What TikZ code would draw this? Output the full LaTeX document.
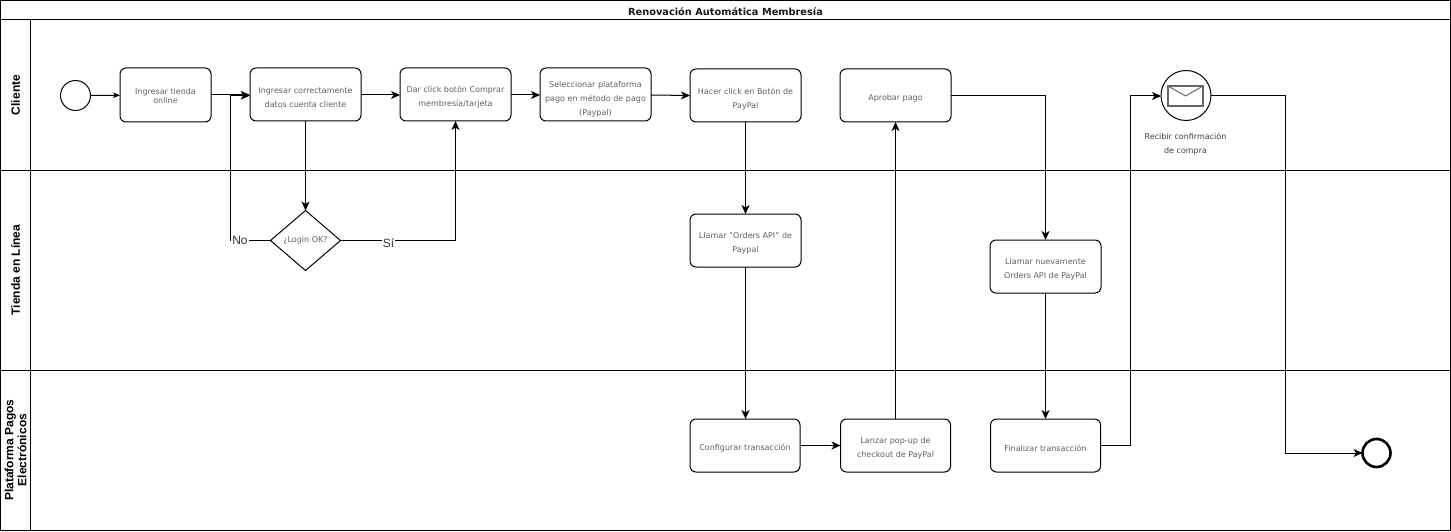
\documentclass[tikz,border=0pt]{standalone}
\usepackage{fontspec}
\setmainfont{DejaVu Sans}
\newfontfamily\lanefont{Liberation Sans}
\usetikzlibrary{arrows.meta,shapes.geometric}
\newcommand{\pushdown}[1]{\mbox{}\\[#1]}
\tikzset{
  task/.style={draw=black,line width=1pt,rounded corners=6pt,fill=white,inner sep=1pt,outer sep=0pt,align=center,text=black!62,font=\fontsize{8}{14}\selectfont},
  flow/.style={draw=black,line width=1pt,-{Stealth[length=9pt,width=8pt,inset=2.5pt]}},
  smallflow/.style={draw=black,line width=1pt,-{Stealth[length=7pt,width=5.5pt,inset=2pt]}},
  lane/.style={draw=black,line width=1pt},
  lanetitle/.style={rotate=90,align=center,font=\lanefont\bfseries\fontsize{12}{13}\selectfont},
  flowlabel/.style={fill=white,inner sep=1pt,font=\lanefont\fontsize{12}{13}\selectfont,text=black!80},
}
\begin{document}
\begin{tikzpicture}[x=1pt,y=-1pt]
\useasboundingbox (0,0) rectangle (1451,532);
% pool
\draw[lane] (0.5,0.5) rectangle (1450,530);
\draw[lane] (0.5,20) -- (1450,20);
\draw[lane] (0.5,170) -- (1450,170);
\draw[lane] (0.5,370) -- (1450,370);
\draw[lane] (30.5,20) -- (30.5,530);
\node[font=\bfseries\fontsize{9.8}{11}\selectfont,text=black!90] (title) at (725.5,11.5) {Renovación Automática Membresía};
\node[lanetitle] (l1) at (15.5,95) {Cliente};
\node[lanetitle] (l2) at (15.5,270) {Tienda en Línea};
\node[lanetitle] (l3) at (15.5,450) {Plataforma Pagos\\Electrónicos};
% events
\node[circle,draw=black,line width=1pt,minimum size=30pt,inner sep=0pt,outer sep=0pt] (start) at (75.5,95.5) {};
\node[circle,draw=black,line width=1pt,minimum size=50pt,inner sep=0pt,outer sep=0pt] (msg) at (1186,95.5) {};
\node[circle,draw=black,line width=2.6pt,minimum size=28pt,inner sep=0pt,outer sep=0pt] (fin) at (1376.5,453) {};
\draw[draw=black!60,line width=1.5pt] (1168,86) rectangle (1203,106);
\draw[draw=black!60,line width=1pt] (1168,86) -- (1185.5,96) -- (1203,86);
\node[align=center,text=black!75,font=\fontsize{8}{14}\selectfont] (msglabel) at (1185.5,144) {Recibir confirmación\\de compra};
% tasks
\node[task,minimum width=91pt,minimum height=54pt,font=\fontsize{8}{9}\selectfont] (t1) at (165.5,95) {\pushdown{-1pt}Ingresar tienda\\online};
\node[task,minimum width=111pt,minimum height=53pt] (t2) at (305.5,94.5) {\pushdown{-2pt}Ingresar correctamente\\datos cuenta cliente};
\node[task,minimum width=111pt,minimum height=53pt] (t3) at (455.5,94.5) {\pushdown{-2pt}Dar click botón Comprar\\membresía/tarjeta};
\node[task,minimum width=111pt,minimum height=53pt] (t4) at (595.5,94.5) {\pushdown{2pt}Seleccionar plataforma\\pago en método de pago\\(Paypal)};
\node[task,minimum width=111pt,minimum height=53pt] (t5) at (745.5,95.5) {\pushdown{-1pt}Hacer click en Botón de\\PayPal};
\node[task,minimum width=111pt,minimum height=53pt] (t6) at (895.5,95.5) {\pushdown{-2pt}Aprobar pago};
\node[diamond,draw=black,line width=1pt,minimum width=70pt,minimum height=60pt,inner sep=0pt,outer sep=0pt,text=black!62,font=\fontsize{8}{9}\selectfont] (d1) at (305.5,240.5) {¿Login OK?};
\node[task,minimum width=111pt,minimum height=53pt] (t7) at (745.5,240.5) {\pushdown{-2pt}Llamar "Orders API" de\\Paypal};
\node[task,minimum width=111pt,minimum height=53pt] (t8) at (1045.5,266.5) {\pushdown{-2pt}Llamar nuevamente\\Orders API de PayPal};
\node[task,minimum width=110pt,minimum height=53pt] (t9) at (745,445.5) {\pushdown{-2pt}Configurar transacción};
\node[task,minimum width=110pt,minimum height=53pt] (t10) at (895.5,445.5) {\pushdown{-2pt}Lanzar pop-up de\\checkout de PayPal};
\node[task,minimum width=110pt,minimum height=53pt] (t11) at (1045.5,445.5) {\pushdown{-2pt}Finalizar transacción};
% free corners
\coordinate (noup) at (230.5,240.5);
\coordinate (noin) at (230.5,95.5);
\coordinate (finup) at (1130.5,445.5);
\coordinate (fintop) at (1130.5,96);
\coordinate (msgr) at (1285.5,96);
\coordinate (msgd) at (1285.5,453);
% connectors
\draw[smallflow] (start) -- (t1);
\draw[flow] (t1.east) -- (t2.west |- t1.east);
\draw[flow] ([yshift=-0.5pt]t2.east) -- ([yshift=-0.5pt]t3.west);
\draw[flow] ([yshift=-0.5pt]t3.east) -- ([yshift=-0.5pt]t4.west);
\draw[flow] ([yshift=-0.5pt]t4.east) -- (t5.west);
\draw[flow] (t2.south) -- (d1.north);
\draw[flow] (d1.west) -- (noup) -- (noin) -- (t2.west |- noin);
\draw[flow] (d1.east) -| (t3.south);
\draw[flow] (t5.south) -- (t7.north);
\draw[flow] (t7.south) -- (t9.north -| t7.south);
\draw[flow] (t9.east) -- (t10.west);
\draw[flow] (t10.north) -- (t6.south);
\draw[flow] (t6.east) -| (t8.north);
\draw[flow] (t8.south) -- (t11.north);
\draw[flow] (t11.east) -- (finup) -- (fintop) -- (msg.west |- fintop);
\draw[flow] (msg.east |- msgr) -- (msgr) -- (msgd) -- (fin.west);
% labels
\node[flowlabel] (no) at (240,240.5) {No};
\node[flowlabel] (si) at (388.5,243) {Sí};
\end{tikzpicture}
\end{document}
